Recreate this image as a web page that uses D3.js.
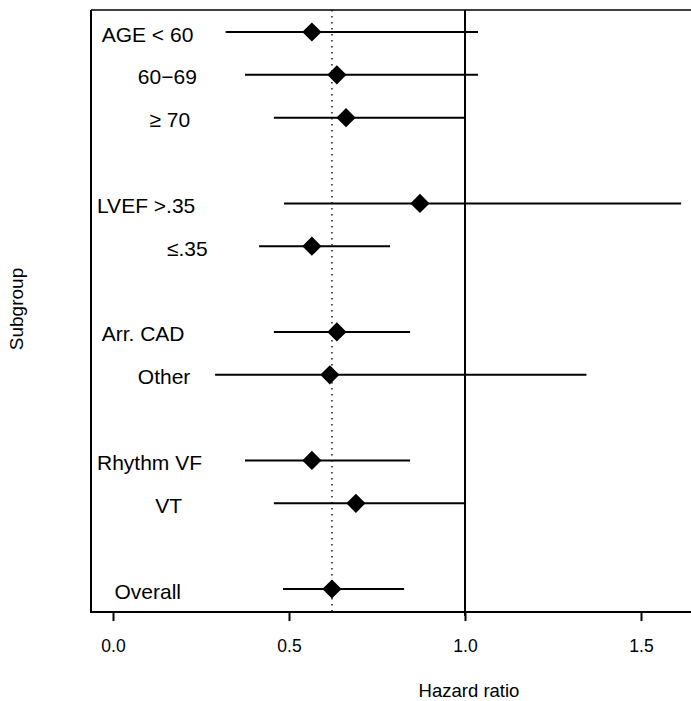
<!DOCTYPE html>
<html>
<head>
<meta charset="utf-8">
<script src="https://cdn.jsdelivr.net/npm/d3@7/dist/d3.min.js"></script>
<style>
  html, body { margin: 0; padding: 0; background: #fff; }
  svg { display: block; }
  text { font-family: "Liberation Sans", Arial, Helvetica, sans-serif; fill: #000; white-space: pre; }
</style>
</head>
<body>
<svg id="chart" width="691" height="701"></svg>
<script>
// ---- Data ----
const labels   = [" AGE < 60", "       60\u221269", "         \u2265 70",
                  "LVEF >.35", "            \u2264.35",
                  " Arr. CAD", "       Other",
                  "Rhythm VF", "          VT",
                  "   Overall"];
const rowIndex = [0, 1, 2, 4, 5, 7, 8, 10, 11, 13];
const estimate = [0.565, 0.636, 0.662, 0.872, 0.565, 0.636, 0.616, 0.565, 0.690, 0.622];
const lower    = [0.320, 0.375, 0.457, 0.486, 0.415, 0.457, 0.290, 0.375, 0.457, 0.483];
const upper    = [1.037, 1.037, 1.003, 1.614, 0.787, 0.844, 1.345, 0.844, 1.003, 0.827];
const xTicks   = [0.0, 0.5, 1.0, 1.5];
const tickLabels = ["0.0", "0.5", "1.0", "1.5"];
const overallEstimate = 0.622;
const nullValue = 1.0;

// ---- Layout ----
const svg = d3.select("#chart");
const box = { left: 91, top: 10, right: 720, bottom: 612 };

const x = d3.scaleLinear().domain([0, 1.5]).range([113, 641]);
const y = d3.scaleLinear().domain([0, 13]).range([32, 589]);

// plot frame: left, top, bottom (right edge lies beyond the window)
svg.append("line").attr("x1", box.left).attr("x2", box.left)
   .attr("y1", box.top).attr("y2", box.bottom + 1)
   .attr("stroke", "#000").attr("stroke-width", 2);
svg.append("line").attr("x1", box.left).attr("x2", box.right)
   .attr("y1", box.top).attr("y2", box.top)
   .attr("stroke", "#000").attr("stroke-width", 1.5);
svg.append("line").attr("x1", box.left - 1).attr("x2", box.right)
   .attr("y1", box.bottom).attr("y2", box.bottom)
   .attr("stroke", "#000").attr("stroke-width", 2);

// reference lines
svg.append("line").attr("x1", x(overallEstimate)).attr("x2", x(overallEstimate))
   .attr("y1", box.top).attr("y2", box.bottom)
   .attr("stroke", "#000").attr("stroke-width", 1.3)
   .attr("stroke-dasharray", "1.5,4.5");
svg.append("line").attr("x1", x(nullValue)).attr("x2", x(nullValue))
   .attr("y1", box.top).attr("y2", box.bottom + 4)
   .attr("stroke", "#000").attr("stroke-width", 2);

// bottom axis
const axis = d3.axisBottom(x).tickValues(xTicks)
   .tickFormat((d, i) => tickLabels[i]).tickSize(9).tickPadding(19);
const gAxis = svg.append("g").attr("transform", `translate(0,${box.bottom})`).call(axis);
gAxis.select(".domain").remove();
gAxis.selectAll(".tick line").attr("stroke", "#000").attr("stroke-width", 2);
gAxis.selectAll(".tick text")
   .style("font-family", '"Liberation Sans", Arial, sans-serif')
   .style("font-size", "17.5px").attr("fill", "#000");

// axis titles
svg.append("text").attr("x", 469).attr("y", 697)
   .attr("text-anchor", "middle").style("font-size", "18.5px").text("Hazard ratio");
svg.append("text").attr("transform", "translate(23,309) rotate(-90)")
   .attr("text-anchor", "middle").style("font-size", "19px").text("Subgroup");

// rows
const rows = labels.map((l, i) => ({ label: l, r: rowIndex[i], est: estimate[i], lo: lower[i], hi: upper[i] }));

svg.append("g").selectAll("line").data(rows).join("line")
   .attr("x1", d => x(d.lo)).attr("x2", d => x(d.hi))
   .attr("y1", d => y(d.r)).attr("y2", d => y(d.r))
   .attr("stroke", "#000").attr("stroke-width", 2);

const diamond = d3.symbol(d3.symbolSquare, 185);
svg.append("g").selectAll("path").data(rows).join("path")
   .attr("d", diamond)
   .attr("transform", d => `translate(${x(d.est)},${y(d.r)}) rotate(45)`)
   .attr("fill", "#000");

svg.append("g").selectAll("text").data(rows).join("text")
   .attr("x", 97).attr("y", d => y(d.r) + 9.5)
   .attr("xml:space", "preserve")
   .style("font-size", "21px")
   .text(d => d.label);
</script>
</body>
</html>
